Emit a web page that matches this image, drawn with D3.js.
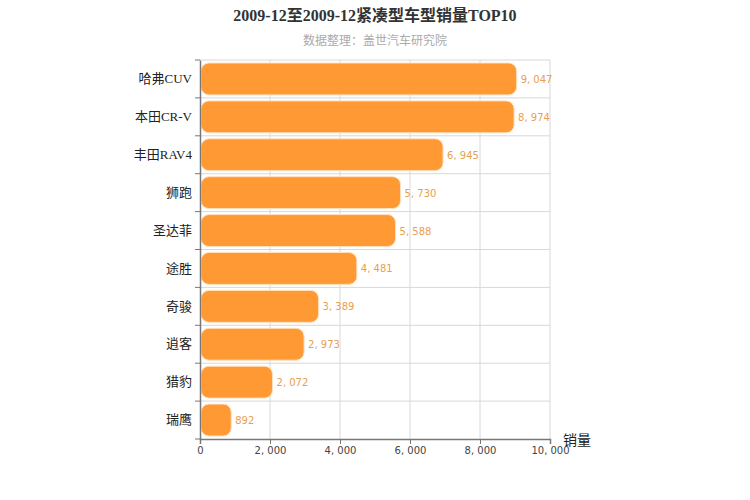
<!DOCTYPE html>
<html><head><meta charset="utf-8">
<script src="https://cdn.jsdelivr.net/npm/d3@7/dist/d3.min.js"></script>
<style>body{margin:0;background:#fff}</style></head>
<body><svg id="c" width="750" height="500"></svg>
<script>
const categories = ["哈弗CUV","本田CR-V","丰田RAV4","狮跑","圣达菲","途胜","奇骏","逍客","猎豹","瑞鹰"];
const values = [9047,8974,6945,5730,5588,4481,3389,2973,2072,892];
const xTicks = [0,2000,4000,6000,8000,10000];
const font = "'Liberation Serif','Noto Sans CJK SC',serif";
const nfont = "'DejaVu Sans',sans-serif";
const svg = d3.select("#c");
const L=200,R=550,T=60,B=439;
const x = d3.scaleLinear().domain([0,10000]).range([L,R]);
const y = d3.scaleBand().domain(categories).range([T,B]);
const fmt = d=>d3.format(",")(d).replace(",",", ");
svg.append("g").selectAll("line").data(xTicks.slice(1)).join("line")
 .attr("x1",d=>x(d)).attr("x2",d=>x(d)).attr("y1",T).attr("y2",B).attr("stroke","#d8d8d8");
svg.append("g").selectAll("line").data(categories).join("line")
 .attr("x1",L).attr("x2",R).attr("y1",d=>y(d)).attr("y2",d=>y(d)).attr("stroke","#d8d8d8");
svg.append("g").selectAll("rect").data(values).join("rect")
 .attr("x",x(0)+1).attr("y",(d,i)=>y(categories[i])+3)
 .attr("width",d=>x(d)-x(0)-1).attr("height",y.bandwidth()-6)
 .attr("rx",8).attr("fill","#ff9933").attr("stroke","#ffe0bf").attr("stroke-width",1);
svg.append("g").selectAll("text").data(values).join("text")
 .attr("x",d=>x(d)+4).attr("y",(d,i)=>y(categories[i])+y.bandwidth()/2+4)
 .attr("font-size",10).attr("fill","#e8a050").attr("font-family",nfont)
 .text(fmt);
const xa = svg.append("g").attr("transform",`translate(0,${B})`)
 .call(d3.axisBottom(x).tickValues(xTicks).tickSize(5).tickFormat(fmt));
xa.select(".domain").attr("stroke","#777").attr("stroke-width",1.5);
xa.selectAll(".tick line").attr("stroke","#777");
xa.selectAll("text").attr("font-size",10).attr("fill","#444").attr("font-family",nfont);
const ya = svg.append("g").attr("transform",`translate(${L},0)`)
 .call(d3.axisLeft(y).tickSize(0).tickPadding(8));
ya.select(".domain").attr("stroke","#777").attr("stroke-width",1.5);
ya.selectAll("text").attr("font-size",13).attr("fill","#222").attr("font-family",font);
svg.append("g").selectAll("line").data(categories.concat([null])).join("line")
 .attr("x1",L-5).attr("x2",L).attr("y1",d=>d?y(d):B).attr("y2",d=>d?y(d):B).attr("stroke","#777");
svg.append("text").attr("x",563).attr("y",445).attr("font-size",14).attr("fill","#222").attr("font-family",font).text("销量");
svg.append("text").attr("x",375).attr("y",21).attr("text-anchor","middle").attr("font-size",16).attr("font-weight","bold").attr("fill","#333").attr("font-family",font).text("2009-12至2009-12紧凑型车型销量TOP10");
svg.append("text").attr("x",375).attr("y",45).attr("text-anchor","middle").attr("font-size",12).attr("fill","#aaa").attr("font-family",font).text("数据整理：盖世汽车研究院");
</script></body></html>
